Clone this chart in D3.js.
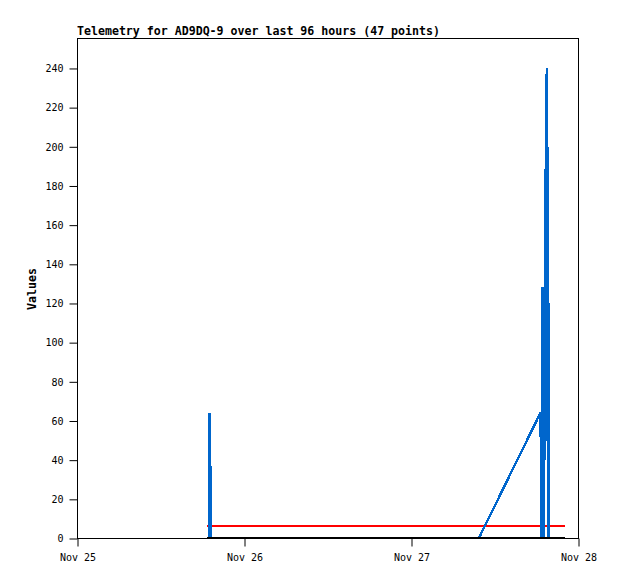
<!DOCTYPE html>
<html><head><meta charset="utf-8">
<script src="https://cdn.jsdelivr.net/npm/d3@7"></script>
<style>body{margin:0;background:#fff}svg{display:block}</style>
</head><body><svg id="c" width="618" height="579"></svg>
<script>
const titleText = "Telemetry for AD9DQ-9 over last 96 hours (47 points)";
const yLabel = "Values";
const xDomain = ["2024-11-25 00:00", "2024-11-28 00:00"];
const xTickDates = ["2024-11-25 00:00", "2024-11-26 00:00", "2024-11-27 00:00", "2024-11-28 00:00"];
const xTickLabels = ["Nov 25", "Nov 26", "Nov 27", "Nov 28"];
const yTicks = [0, 20, 40, 60, 80, 100, 120, 140, 160, 180, 200, 220, 240];
const yMax = 255.3;
// blue series: time, value
const blueTimes = [
  "2024-11-25 18:41","2024-11-25 19:00","2024-11-25 19:02","2024-11-25 19:11","2024-11-25 19:14",
  "2024-11-25 21:00","2024-11-25 23:30","2024-11-26 02:00","2024-11-26 05:00","2024-11-26 08:00",
  "2024-11-26 11:00","2024-11-26 14:00","2024-11-26 17:00","2024-11-26 20:00","2024-11-26 23:00",
  "2024-11-27 02:00","2024-11-27 05:00","2024-11-27 08:00","2024-11-27 09:46",
  "2024-11-27 18:37","2024-11-27 18:45","2024-11-27 18:54","2024-11-27 19:02","2024-11-27 19:10",
  "2024-11-27 19:18","2024-11-27 19:22","2024-11-27 19:31","2024-11-27 19:44","2024-11-27 19:47",
  "2024-11-27 19:55","2024-11-27 20:05","2024-11-27 20:15","2024-11-27 20:25","2024-11-27 20:35",
  "2024-11-27 20:45","2024-11-27 20:55","2024-11-27 21:05","2024-11-27 21:15","2024-11-27 21:25",
  "2024-11-27 21:35","2024-11-27 21:45","2024-11-27 21:50","2024-11-27 21:55","2024-11-27 22:00",
  "2024-11-27 22:03","2024-11-27 22:05","2024-11-27 22:08"
];
const blueValues = [
  0,0,64,32,0,
  0,0,0,0,0,
  0,0,0,0,0,
  0,0,0,0,
  64,0,128,0,120,
  40,200,240,120,0,
  0,0,0,0,0,
  0,0,0,0,0,
  0,0,0,0,0,
  0,0,0
];
const redTimes = ["2024-11-25 18:41", "2024-11-27 22:08"];
const redValues = [6, 6];
const blackTimes = ["2024-11-25 18:41", "2024-11-27 22:08"];
const blackValues = [0, 0];

const parse = d3.utcParse("%Y-%m-%d %H:%M");
const svg = d3.select("#c");
const L = 77, R = 578, T = 38, B = 538;
const x = d3.scaleUtc().domain(xDomain.map(parse)).range([L, R]);
const y = d3.scaleLinear().domain([0, yMax]).range([B, T]);

const mono = "'DejaVu Sans Mono', 'Liberation Mono', monospace";

// frame
svg.append("rect").attr("x", L + 0.5).attr("y", T + 0.5).attr("width", R - L).attr("height", B - T)
  .attr("fill", "none").attr("stroke", "#000").attr("stroke-width", 1);

// y axis
const yAxis = d3.axisLeft(y).tickValues(yTicks).tickSize(8).tickPadding(6).tickFormat(d3.format("d"));
const gy = svg.append("g").attr("transform", `translate(${L + 0.5},0.5)`).call(yAxis);
gy.select(".domain").remove();
gy.selectAll("text").attr("font-family", mono).attr("font-size", 10).attr("fill", "#000");

// x axis
const xAxis = d3.axisBottom(x).tickValues(xTickDates.map(parse)).tickSize(8).tickPadding(7)
  .tickFormat((d, i) => xTickLabels[i]);
const gx = svg.append("g").attr("transform", `translate(0.5,${B + 0.5})`).call(xAxis);
gx.select(".domain").remove();
gx.selectAll("text").attr("font-family", mono).attr("font-size", 10).attr("fill", "#000");

const line = d3.line().x(d => x(d[0])).y(d => y(d[1]));
const mk = (ts, vs) => ts.map((t, i) => [parse(t), vs[i]]);

svg.append("path").datum(mk(redTimes, redValues)).attr("d", line)
  .attr("fill", "none").attr("stroke", "#ff0000").attr("stroke-width", 2).attr("shape-rendering", "crispEdges");
svg.append("path").datum(mk(blueTimes, blueValues)).attr("d", line)
  .attr("fill", "none").attr("stroke", "#0066cc").attr("stroke-width", 2.4)
  .attr("stroke-linejoin", "bevel").attr("shape-rendering", "crispEdges");
svg.append("path").datum(mk(blackTimes, blackValues)).attr("d", line)
  .attr("fill", "none").attr("stroke", "#000").attr("stroke-width", 2).attr("shape-rendering", "crispEdges");

// title
svg.append("text").attr("x", L).attr("y", 35).text(titleText)
  .attr("font-family", mono).attr("font-size", 11.6).attr("font-weight", "bold").attr("fill", "#000");
// y label
svg.append("text").attr("transform", `translate(36,289) rotate(-90)`)
  .attr("text-anchor", "middle").text(yLabel)
  .attr("font-family", mono).attr("font-size", 11.6).attr("font-weight", "bold").attr("fill", "#000");
</script></body></html>
